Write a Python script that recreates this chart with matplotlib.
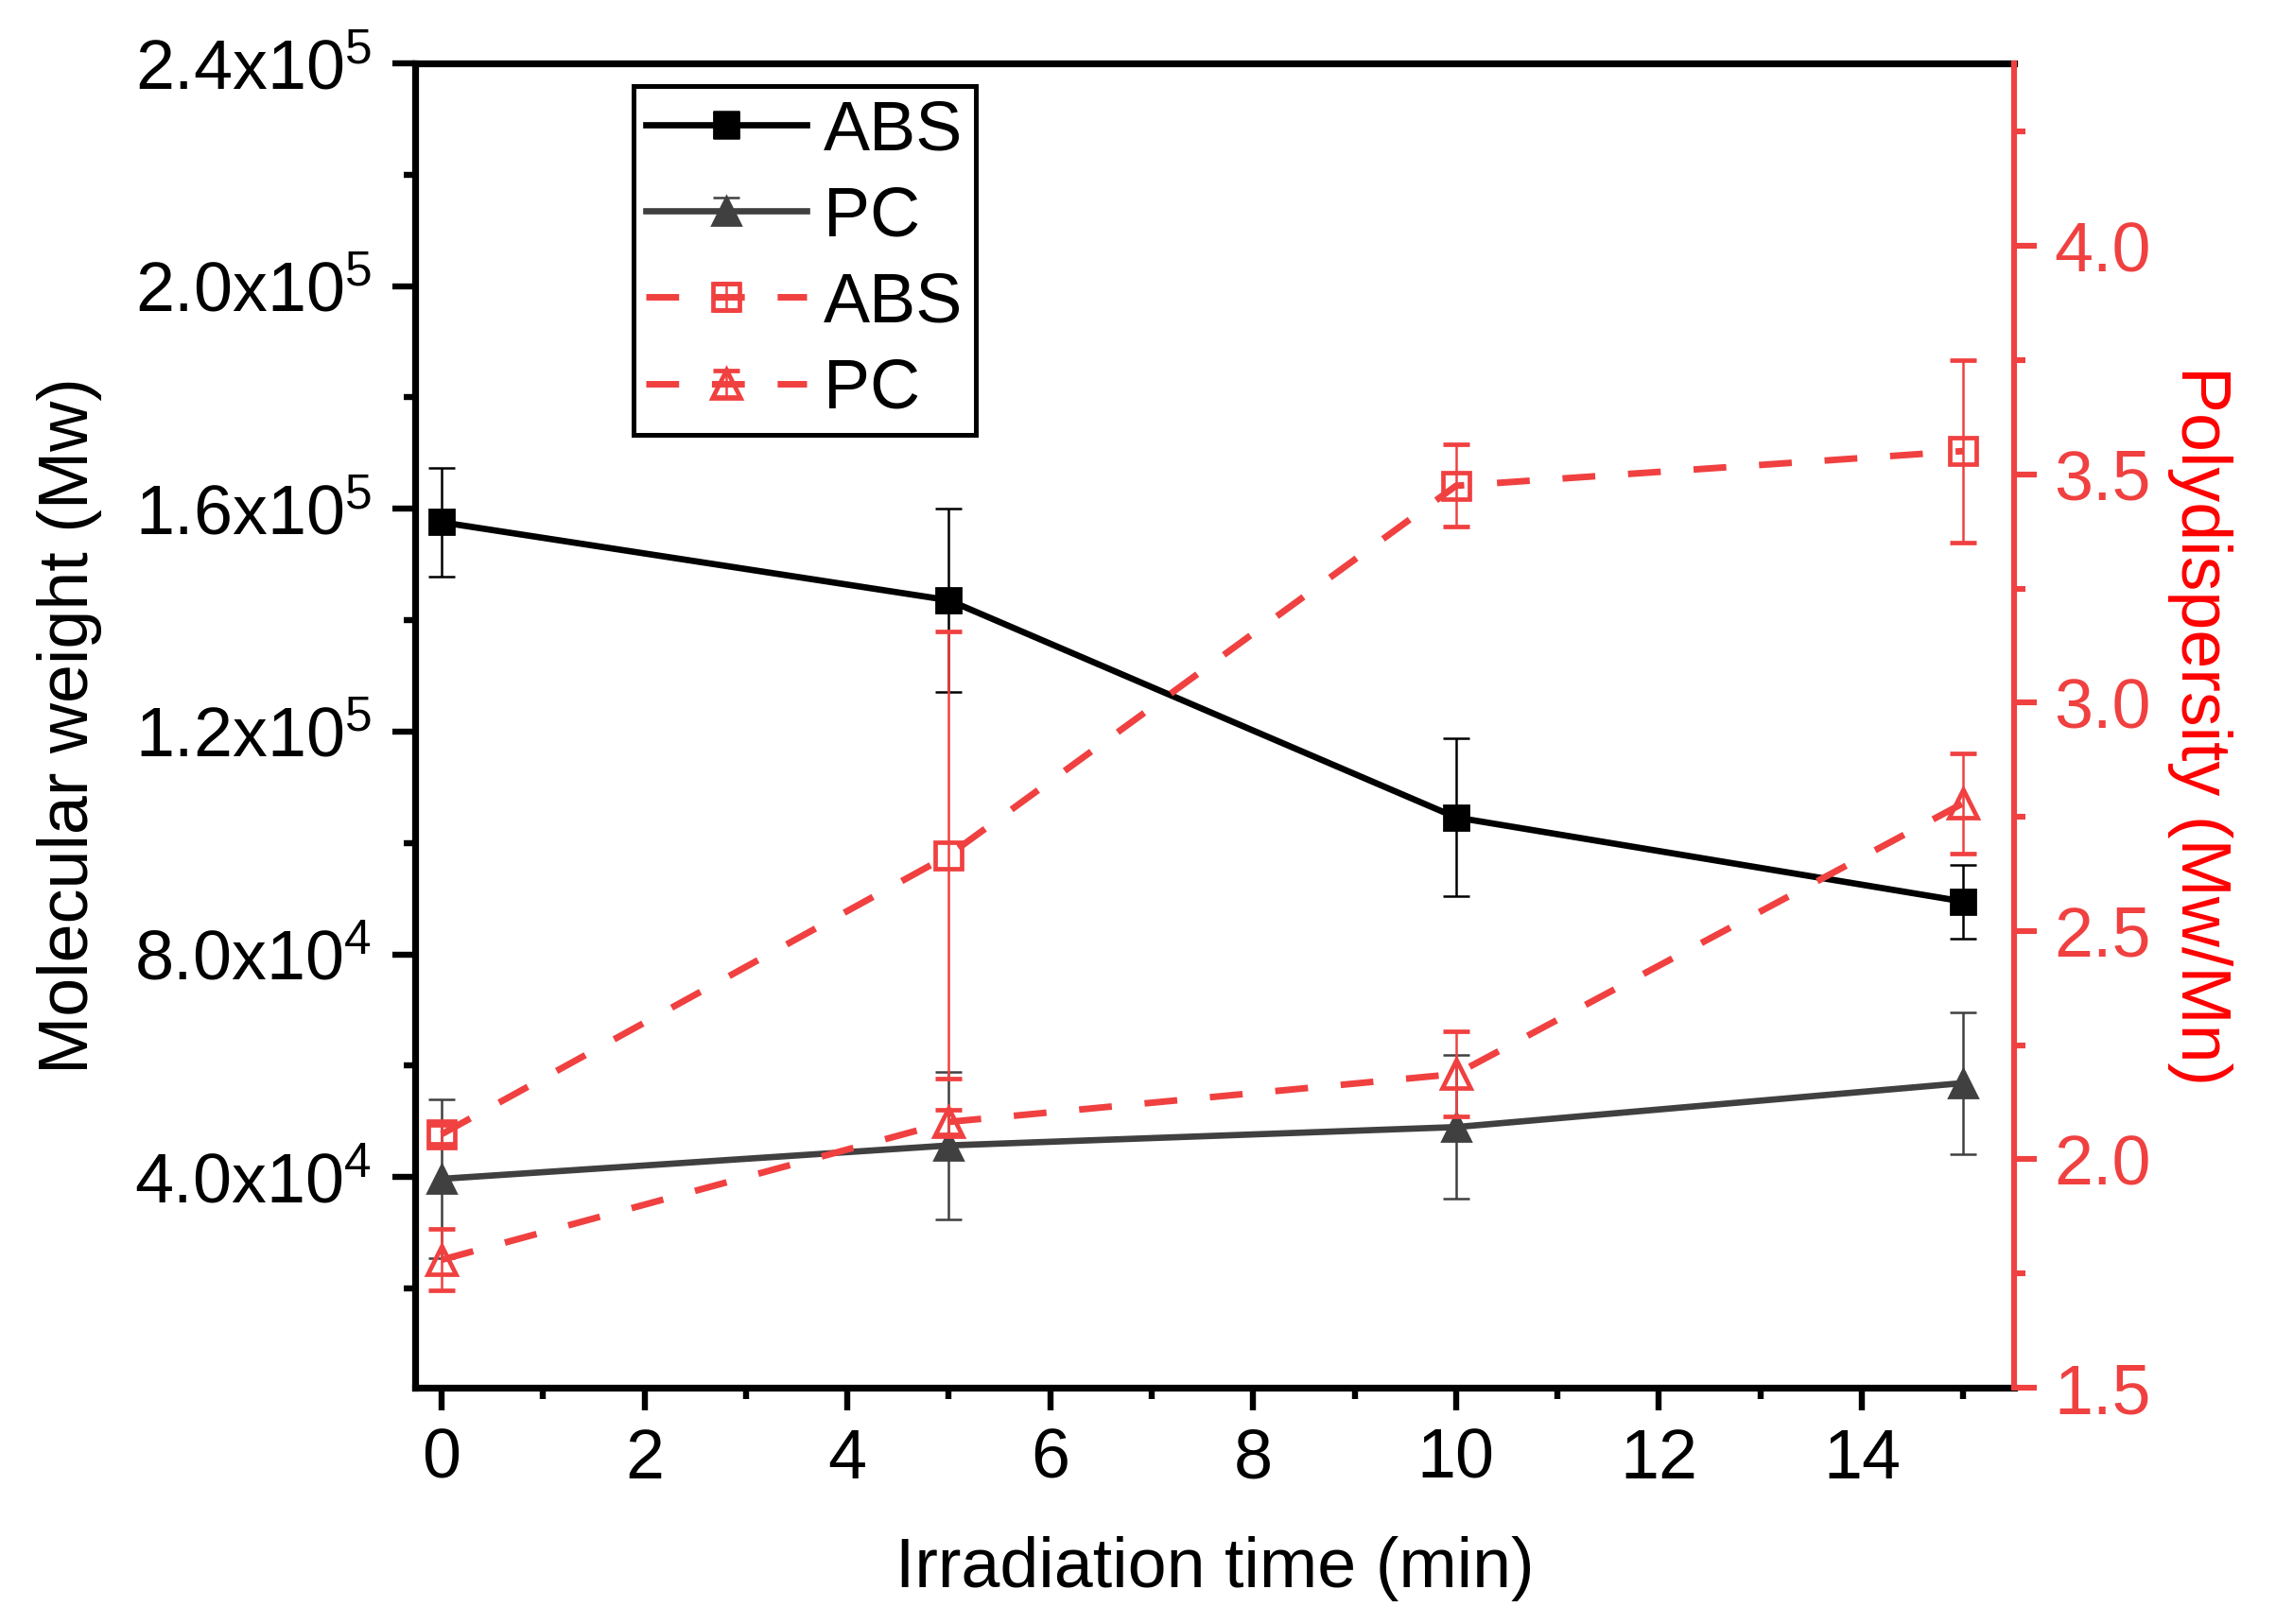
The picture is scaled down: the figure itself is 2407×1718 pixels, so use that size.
import numpy as np
import matplotlib
matplotlib.use('Agg')
import matplotlib.pyplot as plt
from matplotlib.ticker import MultipleLocator, FuncFormatter
from matplotlib.container import ErrorbarContainer
from matplotlib.legend_handler import HandlerErrorbar

plt.rcParams['font.family'] = ['Liberation Sans', 'DejaVu Sans']
plt.rcParams['mathtext.fontset'] = 'custom'
plt.rcParams['mathtext.rm'] = 'Liberation Sans'
plt.rcParams['mathtext.it'] = 'Liberation Sans:italic'
plt.rcParams['mathtext.bf'] = 'Liberation Sans:bold'

# Data
time_min = [0, 5, 10, 15]
mw_abs = [1.576e5, 1.436e5, 1.046e5, 0.895e5]
mw_abs_err = [0.97e4, 1.65e4, 1.42e4, 0.66e4]
mw_pc = [3.97e4, 4.57e4, 4.90e4, 5.69e4]
mw_pc_err = [1.42e4, 1.32e4, 1.29e4, 1.27e4]
pdi_abs = [2.055, 2.666, 3.475, 3.551]
pdi_abs_err = [0.02, 0.49, 0.09, 0.20]
pdi_pc = [1.78, 2.082, 2.187, 2.78]
pdi_pc_err = [0.067, 0.027, 0.093, 0.11]

red = '#F04040'
dark = '#404040'
fs = 26.5

fig = plt.figure(figsize=(12.035, 8.59), dpi=200)
ax = fig.add_axes([0.1824, 0.1455, 0.7025, 0.8155])
ax2 = ax.twinx()

# left axis: molecular weight
ax.errorbar(time_min, mw_abs, yerr=mw_abs_err, color='black', marker='s', ms=9.5,
            lw=2.4, elinewidth=0.9, capsize=5, capthick=0.9, ecolor='black', label='ABS')
ax.errorbar(time_min, mw_pc, yerr=mw_pc_err, color=dark, marker='^', ms=11,
            lw=2.4, elinewidth=0.9, capsize=5, capthick=0.9, ecolor=dark, label='PC')

# right axis: polydispersity
ax2.errorbar(time_min, pdi_abs, yerr=pdi_abs_err, color=red, marker='s', ms=10,
             mfc='none', mec=red, mew=1.7, lw=2.5, ls='--', dashes=(5, 5),
             elinewidth=0.9, capsize=5, capthick=0.9, ecolor=red, label='ABS')
ax2.errorbar(time_min, pdi_pc, yerr=pdi_pc_err, color=red, marker='^', ms=11,
             mfc='none', mec=red, mew=1.7, lw=2.5, ls='--', dashes=(5, 5),
             elinewidth=0.9, capsize=5, capthick=0.9, ecolor=red, label='PC')

ax.set_xlim(-0.26, 15.5)
ax.set_ylim(2200, 2.4e5)
ax2.set_ylim(1.5, 4.4)

ax.xaxis.set_major_locator(MultipleLocator(2))
ax.xaxis.set_minor_locator(MultipleLocator(1))
ax.yaxis.set_major_locator(MultipleLocator(4e4))
ax.yaxis.set_minor_locator(MultipleLocator(2e4))
ax2.yaxis.set_major_locator(MultipleLocator(0.5))
ax2.yaxis.set_minor_locator(MultipleLocator(0.25))


def sci_fmt(v, pos):
    if v <= 0:
        return ''
    e = int(np.floor(np.log10(v)))
    return '%.1fx10$^{%d}$' % (v / 10 ** e, e)


ax.yaxis.set_major_formatter(FuncFormatter(sci_fmt))
ax2.yaxis.set_major_formatter(FuncFormatter(lambda v, p: '%.1f' % v))

for s in ['left', 'top', 'bottom']:
    ax.spines[s].set_linewidth(2.6)
ax.spines['right'].set_visible(False)
for s in ['left', 'top', 'bottom']:
    ax2.spines[s].set_visible(False)
ax2.spines['right'].set_color(red)
ax2.spines['right'].set_linewidth(2.2)

ax.tick_params(axis='both', which='major', direction='out', length=8.6, width=2.3,
               labelsize=fs, top=False, right=False)
ax.tick_params(axis='both', which='minor', direction='out', length=4.3, width=2.3,
               top=False, right=False)
ax.tick_params(axis='x', which='major', pad=6.5)
ax.tick_params(axis='y', which='major', pad=8)
ax2.tick_params(axis='y', which='major', direction='out', length=8.6, width=2.2,
                labelsize=fs, colors=red, pad=6.5)
ax2.tick_params(axis='y', which='minor', direction='out', length=4.3, width=2.2, colors=red)

ax.set_xlabel('Irradiation time (min)', fontsize=fs, va='center')
ax.xaxis.set_label_coords(0.5, -0.137)
ax.set_ylabel('Molecular weight (Mw)', fontsize=fs, va='center')
ax.yaxis.set_label_coords(-0.2164, 0.5)
ax2.set_ylabel('Polydispersity (Mw/Mn)', fontsize=fs, color='#FF0000', rotation=270, va='center')
ax2.yaxis.set_label_coords(1.1165, 0.5)

h1, l1 = ax.get_legend_handles_labels()
h2, l2 = ax2.get_legend_handles_labels()
leg = ax2.legend(h1 + h2, l1 + l2, loc='upper left', bbox_to_anchor=(0.1366, 0.983),
                 borderaxespad=0, fontsize=fs, frameon=True, fancybox=False,
                 framealpha=1, edgecolor='black', handlelength=2.3, handletextpad=0.25,
                 labelspacing=0.3, borderpad=0.18,
                 handler_map={ErrorbarContainer: HandlerErrorbar(yerr_size=0.19, marker_pad=0.3)})
leg.get_frame().set_linewidth(1.8)

fig.savefig('out.png', dpi=200)
